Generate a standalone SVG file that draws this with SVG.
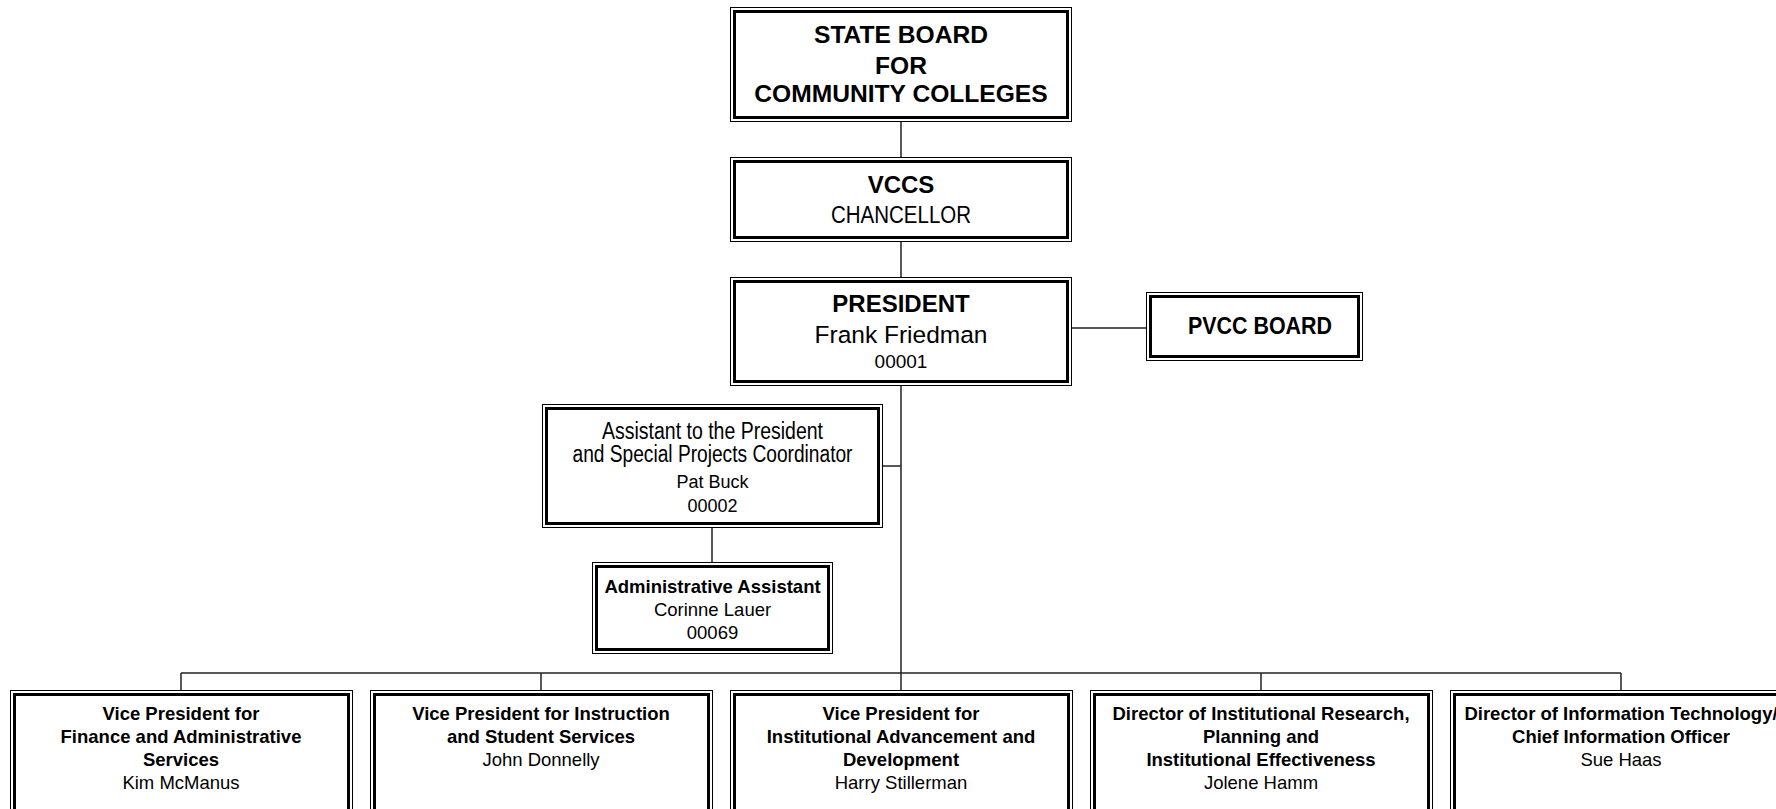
<svg xmlns="http://www.w3.org/2000/svg" width="1776" height="809" viewBox="0 0 1776 809">
<style>
.o{fill:#fff;stroke:#000;stroke-width:1}
.i{fill:none;stroke:#000;stroke-width:3}
.c{fill:none;stroke:#222;stroke-width:1.5}
text{font-family:"Liberation Sans",Arial,sans-serif;fill:#000;text-anchor:middle}
.b{font-weight:bold}
.bb{font-weight:bold;font-size:18.5px}
.n{font-size:18.5px}
</style>
<g id="connectors">
<path class="c" d="M901,122V157M901,242V277M1072,328H1146M901,386V673M883,466H901M712,528V562M181,673H1621M181,673V690M541,673V690M901,673V690M1261,673V690M1621,673V690"/>
</g>
<g id="state-board">
<rect class="o" x="730.5" y="7.5" width="341" height="114"/>
<rect class="i" x="734.5" y="11.5" width="333" height="106"/>
<text class="b" x="901" y="43" font-size="24.6">STATE BOARD</text>
<text class="b" x="901" y="74" font-size="24.6">FOR</text>
<text class="b" x="901" y="102" font-size="24.6">COMMUNITY COLLEGES</text>
</g>
<g id="vccs">
<rect class="o" x="730.5" y="157.5" width="341" height="84"/>
<rect class="i" x="734.5" y="161.5" width="333" height="76"/>
<text class="b" x="901" y="193" font-size="24">VCCS</text>
<text x="901" y="223" font-size="23.5" textLength="140" lengthAdjust="spacingAndGlyphs">CHANCELLOR</text>
</g>
<g id="president">
<rect class="o" x="730.5" y="277.5" width="341" height="108"/>
<rect class="i" x="734.5" y="281.5" width="333" height="100"/>
<text class="b" x="901" y="312" font-size="24">PRESIDENT</text>
<text x="901" y="342.5" font-size="24.5">Frank Friedman</text>
<text x="901" y="368" font-size="19">00001</text>
</g>
<g id="pvcc-board">
<rect class="o" x="1146.5" y="292.5" width="216" height="68"/>
<rect class="i" x="1150.5" y="296.5" width="208" height="60"/>
<text class="b" x="1260" y="333.5" font-size="23" textLength="144" lengthAdjust="spacingAndGlyphs">PVCC BOARD</text>
</g>
<g id="assistant">
<rect class="o" x="542.5" y="404.5" width="340" height="123"/>
<rect class="i" x="546.5" y="408.5" width="332" height="115"/>
<text x="712.5" y="439" font-size="23" textLength="221" lengthAdjust="spacingAndGlyphs">Assistant to the President</text>
<text x="712.5" y="462" font-size="23" textLength="280" lengthAdjust="spacingAndGlyphs">and Special Projects Coordinator</text>
<text x="712.5" y="488" font-size="18">Pat Buck</text>
<text x="712.5" y="511.5" font-size="18">00002</text>
</g>
<g id="admin-assistant">
<rect class="o" x="592.5" y="562.5" width="240" height="91"/>
<rect class="i" x="596.5" y="566.5" width="232" height="83"/>
<text class="bb" x="712.5" y="593">Administrative Assistant</text>
<text class="n" x="712.5" y="616">Corinne Lauer</text>
<text class="n" x="712.5" y="639">00069</text>
</g>
<g id="vp-finance">
<rect class="o" x="10.5" y="690.5" width="342" height="200"/>
<rect class="i" x="14.5" y="694.5" width="334" height="192"/>
<text class="bb" x="181" y="720">Vice President for</text>
<text class="bb" x="181" y="743">Finance and Administrative</text>
<text class="bb" x="181" y="765.5">Services</text>
<text class="n" x="181" y="789">Kim McManus</text>
</g>
<g id="vp-instruction">
<rect class="o" x="370.5" y="690.5" width="342" height="200"/>
<rect class="i" x="374.5" y="694.5" width="334" height="192"/>
<text class="bb" x="541" y="720">Vice President for Instruction</text>
<text class="bb" x="541" y="743">and Student Services</text>
<text class="n" x="541" y="765.5">John Donnelly</text>
</g>
<g id="vp-advancement">
<rect class="o" x="730.5" y="690.5" width="342" height="200"/>
<rect class="i" x="734.5" y="694.5" width="334" height="192"/>
<text class="bb" x="901" y="720">Vice President for</text>
<text class="bb" x="901" y="743">Institutional Advancement and</text>
<text class="bb" x="901" y="765.5">Development</text>
<text class="n" x="901" y="789">Harry Stillerman</text>
</g>
<g id="dir-research">
<rect class="o" x="1090.5" y="690.5" width="342" height="200"/>
<rect class="i" x="1094.5" y="694.5" width="334" height="192"/>
<text class="bb" x="1261" y="720">Director of Institutional Research,</text>
<text class="bb" x="1261" y="743">Planning and</text>
<text class="bb" x="1261" y="765.5">Institutional Effectiveness</text>
<text class="n" x="1261" y="789">Jolene Hamm</text>
</g>
<g id="dir-it">
<rect class="o" x="1450.5" y="690.5" width="342" height="200"/>
<rect class="i" x="1454.5" y="694.5" width="334" height="192"/>
<text class="bb" x="1621" y="720">Director of Information Technology/</text>
<text class="bb" x="1621" y="743">Chief Information Officer</text>
<text class="n" x="1621" y="765.5">Sue Haas</text>
</g>
</svg>
